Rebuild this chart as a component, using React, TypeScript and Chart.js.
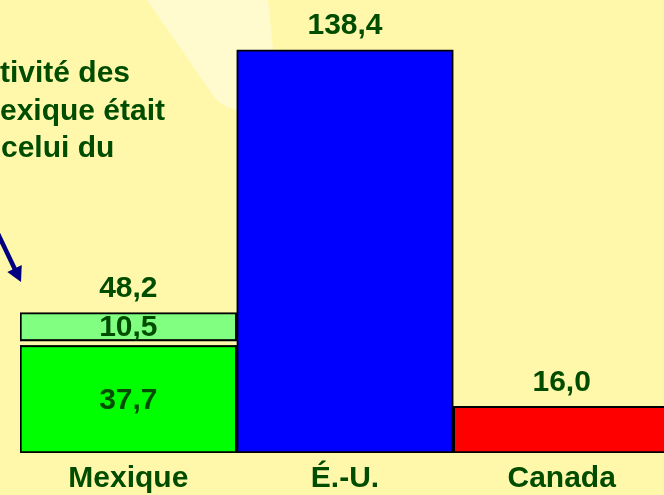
import React, { useEffect, useRef } from 'react';
import { Chart, registerables } from 'chart.js';

Chart.register(...registerables);

const categories = ['Mexique', 'É.-U.', 'Canada'];
const baseValues: number[] = [37.7, 138.4, 16.0];
const addedValues: (number | null)[] = [10.5, null, null];
const baseColors = ['#00FF00', '#0000FF', '#FF0000'];
const addedColor = '#80FF80';
const calloutLines = ['tivité des', 'exique était', 'celui du'];

const BG = '#FFF8AA';
const WEDGE = '#FFFBCF';
const TEXT = '#004D00';
const FONT = '"Liberation Sans", Arial, Helvetica, sans-serif';

const fmt = (v: number) => v.toFixed(1).replace('.', ',');

const decor = {
  id: 'decor',
  beforeDatasetsDraw(chart: any) {
    const ctx = chart.ctx as CanvasRenderingContext2D;
    ctx.save();
    ctx.fillStyle = WEDGE;
    ctx.beginPath();
    ctx.moveTo(147, 0);
    ctx.lineTo(215, 98);
    ctx.quadraticCurveTo(225, 109, 240, 110);
    ctx.lineTo(279, 110);
    ctx.lineTo(268, 0);
    ctx.closePath();
    ctx.fill();
    ctx.restore();
  },
  afterDatasetsDraw(chart: any) {
    const ctx = chart.ctx as CanvasRenderingContext2D;
    const m0 = chart.getDatasetMeta(0);
    const m1 = chart.getDatasetMeta(1);
    ctx.save();
    ctx.font = `bold 30px ${FONT}`;
    ctx.textAlign = 'center';
    ctx.textBaseline = 'alphabetic';
    categories.forEach((_c, i) => {
      const b = m0.data[i] as any;
      const add = addedValues[i];
      if (add != null) {
        const a = m1.data[i] as any;
        const y = a.base;
        const w = a.width;
        const x0 = a.x - w / 2;
        ctx.fillStyle = BG;
        ctx.fillRect(x0, y - 2, w, 4);
        ctx.fillStyle = '#000000';
        ctx.fillRect(x0, y - 4, w, 2);
        ctx.fillRect(x0, y + 2, w, 2);
        ctx.fillStyle = TEXT;
        ctx.fillText(fmt(add), a.x, (a.y + a.base - 4) / 2 + 10.5);
        ctx.fillText(fmt(baseValues[i]), b.x, (b.y + b.base) / 2 + 10.5);
        ctx.fillText(fmt(baseValues[i] + add), a.x, a.y - 15.5);
      } else {
        ctx.fillStyle = TEXT;
        ctx.fillText(fmt(baseValues[i]), b.x, b.y - 15.5);
      }
    });
    ctx.restore();
  },
  afterDraw(chart: any) {
    const ctx = chart.ctx as CanvasRenderingContext2D;
    ctx.save();
    ctx.font = `bold 30px ${FONT}`;
    ctx.fillStyle = TEXT;
    ctx.textAlign = 'left';
    ctx.textBaseline = 'alphabetic';
    const baselines = [82, 119.5, 157];
    const xs = [0, 0, 1];
    calloutLines.forEach((t, i) => ctx.fillText(t, xs[i], baselines[i]));
    const tip = { x: 21, y: 282 };
    const dx = 0.431, dy = 0.902;
    const px = 0.902, py = -0.431;
    const headLen = 15, half = 8;
    const bx = tip.x - headLen * dx, by = tip.y - headLen * dy;
    ctx.strokeStyle = '#000080';
    ctx.lineWidth = 4.5;
    ctx.beginPath();
    ctx.moveTo(tip.x - 90 * dx, tip.y - 90 * dy);
    ctx.lineTo(bx + 2 * dx, by + 2 * dy);
    ctx.stroke();
    ctx.fillStyle = '#000080';
    ctx.beginPath();
    ctx.moveTo(tip.x, tip.y);
    ctx.lineTo(bx + half * px, by + half * py);
    ctx.lineTo(bx - half * px, by - half * py);
    ctx.closePath();
    ctx.fill();
    ctx.restore();
  },
};

export default function App() {
  const ref = useRef<HTMLCanvasElement | null>(null);

  useEffect(() => {
    if (!ref.current) return;
    const chart = new Chart(ref.current, {
      type: 'bar',
      data: {
        labels: categories,
        datasets: [
          {
            label: 'Base',
            data: baseValues,
            backgroundColor: baseColors,
            borderColor: '#000000',
            borderWidth: 2,
            borderSkipped: false,
            barPercentage: 1,
            categoryPercentage: 1,
          },
          {
            label: 'Ajout',
            data: addedValues as any,
            backgroundColor: addedColor,
            borderColor: '#000000',
            borderWidth: 2,
            borderSkipped: false,
            barPercentage: 1,
            categoryPercentage: 1,
          },
        ],
      },
      options: {
        animation: false,
        responsive: false,
        maintainAspectRatio: false,
        layout: { padding: { top: 16, left: 20, right: 0, bottom: 0 } },
        plugins: {
          legend: { display: false },
          tooltip: { enabled: false },
        },
        scales: {
          x: {
            stacked: true,
            grid: { display: false, drawTicks: false },
            border: { display: false },
            ticks: {
              color: TEXT,
              padding: 8,
              font: { family: FONT, size: 30, weight: 'bold' },
            },
          },
          y: {
            stacked: true,
            display: false,
            min: 0,
            max: 150,
          },
        },
      },
      plugins: [decor],
    });
    return () => chart.destroy();
  }, []);

  return (
    <div
      style={{
        position: 'fixed',
        left: 0,
        top: 0,
        width: 664,
        height: 495,
        overflow: 'hidden',
        background: BG,
      }}
    >
      <canvas
        ref={ref}
        width={670}
        height={505}
        style={{ display: 'block', width: 670, height: 505, background: BG }}
      />
    </div>
  );
}
